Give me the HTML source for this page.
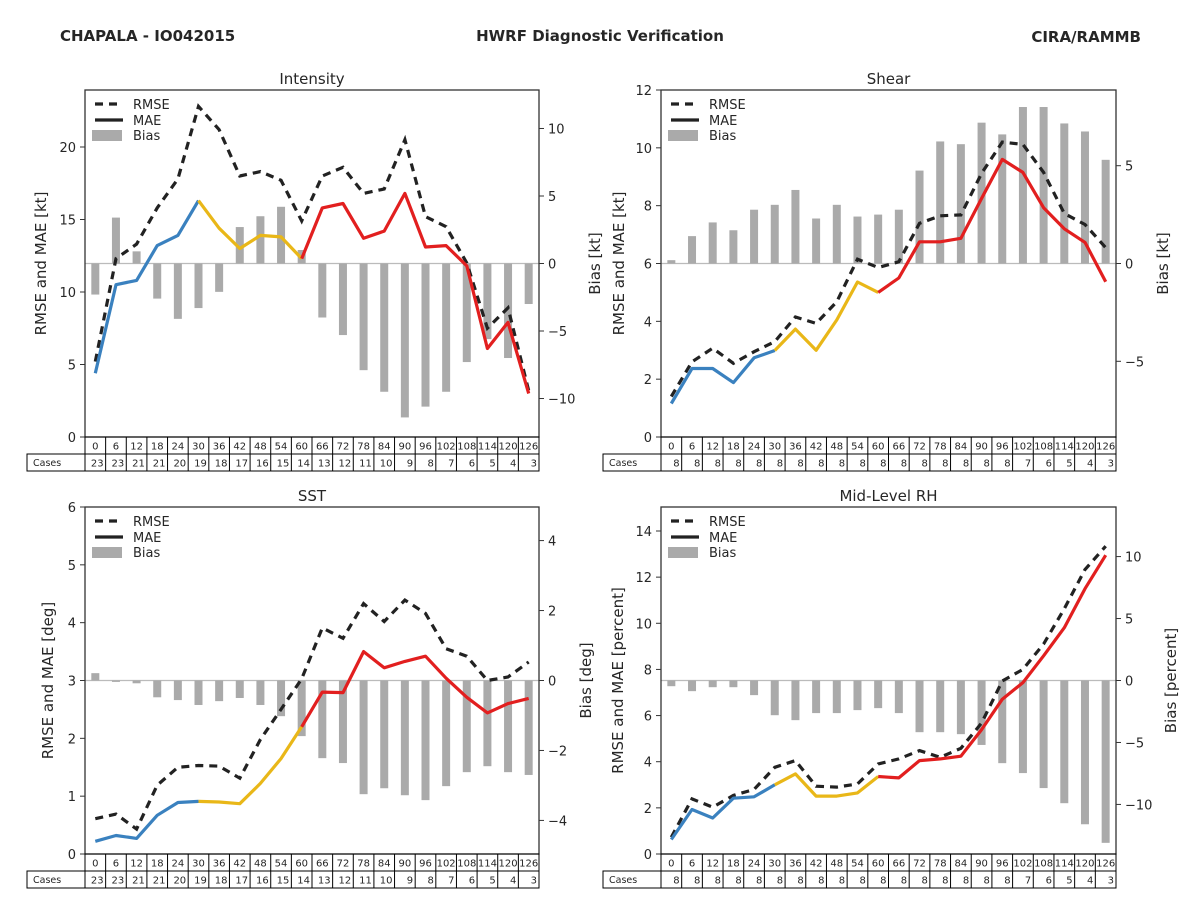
<!DOCTYPE html>
<html><head><meta charset="utf-8">
<style>
body{margin:0;background:#fff;}
svg{display:block;font-family:"DejaVu Sans","Liberation Sans",sans-serif;}
</style></head>
<body>
<svg id="fig" width="1200" height="900" viewBox="0 0 1200 900" xmlns="http://www.w3.org/2000/svg">
<rect width="1200" height="900" fill="#fff"/>
<text x="60" y="41" font-size="15" font-weight="bold" fill="#262626">CHAPALA - IO042015</text>
<text x="600" y="41" font-size="15" font-weight="bold" fill="#262626" text-anchor="middle">HWRF Diagnostic Verification</text>
<text x="1141" y="42" font-size="15" font-weight="bold" fill="#262626" text-anchor="end">CIRA/RAMMB</text>
</svg>
<script>
const hours = [0,6,12,18,24,30,36,42,48,54,60,66,72,78,84,90,96,102,108,114,120,126];
const casesA = [23,23,21,21,20,19,18,17,16,15,14,13,12,11,10,9,8,7,6,5,4,3];
const casesB = [8,8,8,8,8,8,8,8,8,8,8,8,8,8,8,8,8,7,6,5,4,3];

const intMAE = [4.4,10.5,10.8,13.2,13.9,16.3,14.4,13.0,13.9,13.8,12.3,15.8,16.1,13.7,14.2,16.8,13.1,13.2,11.8,6.1,7.9,3.0];
const intRMSE = [5.2,12.3,13.3,15.8,17.8,22.8,21.2,18.0,18.3,17.7,14.9,18.0,18.6,16.8,17.1,20.5,15.2,14.5,12.0,7.5,8.9,3.2];
const intBias = [-2.3,3.4,0.9,-2.6,-4.1,-3.3,-2.1,2.7,3.5,4.2,1.0,-4.0,-5.3,-7.9,-9.5,-11.4,-10.6,-9.5,-7.3,-5.6,-7.0,-3.0];

const shrMAE = [1.16,2.37,2.37,1.88,2.74,2.99,3.73,3.0,4.05,5.36,5.0,5.5,6.75,6.75,6.87,8.25,9.6,9.15,7.93,7.2,6.73,5.37];
const shrRMSE = [1.4,2.6,3.07,2.55,2.95,3.3,4.15,3.93,4.68,6.15,5.86,6.06,7.39,7.65,7.68,9.12,10.2,10.12,9.15,7.73,7.35,6.55];
const shrBias = [0.17,1.4,2.1,1.7,2.75,3.0,3.76,2.3,3.0,2.4,2.5,2.75,4.75,6.24,6.1,7.2,6.6,8.0,8.0,7.16,6.75,5.3];

const sstMAE = [0.22,0.32,0.27,0.67,0.89,0.91,0.90,0.87,1.22,1.65,2.2,2.8,2.79,3.5,3.22,3.33,3.42,3.04,2.71,2.44,2.6,2.69];
const sstRMSE = [0.61,0.69,0.43,1.19,1.5,1.53,1.52,1.31,1.98,2.5,3.03,3.91,3.73,4.33,4.02,4.39,4.16,3.55,3.42,3.0,3.06,3.32];
const sstBias = [0.21,-0.04,-0.08,-0.48,-0.56,-0.70,-0.59,-0.50,-0.70,-1.02,-1.59,-2.22,-2.36,-3.25,-3.08,-3.28,-3.42,-3.02,-2.62,-2.45,-2.62,-2.70];

const rhMAE = [0.63,1.93,1.56,2.42,2.48,3.0,3.47,2.51,2.51,2.65,3.36,3.3,4.05,4.12,4.24,5.39,6.71,7.43,8.59,9.81,11.5,12.95];
const rhRMSE = [0.73,2.39,2.03,2.54,2.8,3.76,4.05,2.94,2.9,3.04,3.9,4.12,4.48,4.19,4.58,5.68,7.5,8.0,9.1,10.63,12.33,13.34];
const rhBias = [-0.46,-0.86,-0.54,-0.54,-1.18,-2.8,-3.2,-2.63,-2.63,-2.39,-2.23,-2.63,-4.17,-4.17,-4.33,-5.2,-6.67,-7.47,-8.68,-9.9,-11.6,-13.1];

const intLeftTicks = [0,5,10,15,20];
const intRightTicks = [-10,-5,0,5,10];
const shrLeftTicks = [0,2,4,6,8,10,12];
const shrRightTicks = [-5,0,5];
const sstLeftTicks = [0,1,2,3,4,5,6];
const sstRightTicks = [-4,-2,0,2,4];
const rhLeftTicks = [0,2,4,6,8,10,12,14];
const rhRightTicks = [-10,-5,0,5,10];

const NS = "http://www.w3.org/2000/svg";
const fig = document.getElementById('fig');
function mk(tag, attrs, parent, txt){
  const e = document.createElementNS(NS, tag);
  for (const k in attrs) e.setAttribute(k, attrs[k]);
  if (txt !== undefined) e.textContent = txt;
  (parent||fig).appendChild(e);
  return e;
}
function fmt(v){ return v<0 ? '\u2212'+Math.abs(v) : String(v); }

function panel(o){
  const g = mk('g', {});
  
  
  const L=o.x0, R=o.x1, T=o.y0, B=o.y1;
  const xs = h => L + (h + 3) * (R - L) / 132;
  const yl = v => B - (v - o.lmin) * (B - T) / (o.lmax - o.lmin);
  const yr = v => B - (v - o.rmin) * (B - T) / (o.rmax - o.rmin);
  const t = mk('text', {x:(L+R)/2, y:T-6, 'font-size':15, 'text-anchor':'middle', fill:'#262626'}, g, o.title);
  
  
  const z = mk('line', {x1:L, x2:R, y1:yr(0), y2:yr(0), stroke:'#bbbbbb', 'stroke-width':1.2}, g);
  
  
  o.bias.forEach((b,i)=>{
    const y0 = yr(0), y1 = yr(b);
    const r = mk('rect', {x:xs(hours[i])-4, y:Math.min(y0,y1), width:8, height:Math.abs(y1-y0), fill:'#aaaaaa'}, g);
    
    
  });
  const rp = o.rmse.map((v,i)=>xs(hours[i]).toFixed(1)+','+yl(v).toFixed(1)).join(' ');
  const rl = mk('polyline', {points:rp, fill:'none', stroke:'#222', 'stroke-width':3.2, 'stroke-dasharray':'8,6'}, g);
  
  
  const seg = (a,b,col)=>{
    const pts=[];
    hours.forEach((h,i)=>{ if(h>=a && h<=b) pts.push(xs(h).toFixed(1)+','+yl(o.mae[i]).toFixed(1)); });
    const p = mk('polyline', {points:pts.join(' '), fill:'none', stroke:col, 'stroke-width':3.2, 'stroke-linejoin':'round'}, g);
    
    
  };
  seg(0,30,'#3a81bf'); seg(30,60,'#e9b718'); seg(60,126,'#e21f1f');
  const f = mk('rect', {x:L, y:T, width:R-L, height:B-T, fill:'none', stroke:'#333', 'stroke-width':1.3}, g);
  
  
  o.lt.forEach(v=>{
    const y=yl(v);
    mk('line', {x1:L-5, x2:L, y1:y, y2:y, stroke:'#333', 'stroke-width':1}, g);
    const tl = mk('text', {x:L-9, y:y+5, 'font-size':13, 'text-anchor':'end', fill:'#262626'}, g, fmt(v));
    
    
  });
  o.rt.forEach(v=>{
    const y=yr(v);
    mk('line', {x1:R, x2:R+5, y1:y, y2:y, stroke:'#333', 'stroke-width':1}, g);
    const tl = mk('text', {x:R+9, y:y+5, 'font-size':13, 'text-anchor':'start', fill:'#262626'}, g, fmt(v));
    
    
  });
  const ll = mk('text', {x:0, y:0, 'font-size':15, 'text-anchor':'middle', fill:'#262626', transform:`translate(${o.llx},${(T+B)/2}) rotate(-90)`}, g, o.lLabel);
  
  
  const rl2 = mk('text', {x:0, y:0, 'font-size':15, 'text-anchor':'middle', fill:'#262626', transform:`translate(${o.rlx},${(T+B)/2}) rotate(-90)`}, g, o.rLabel);
  
  
  const lg = mk('g', {}, g);
  
  
  const lx=L+10, ly=T+14;
  mk('line', {x1:lx, x2:lx+28, y1:ly, y2:ly, stroke:'#222', 'stroke-width':3.2, 'stroke-dasharray':'8,6'}, lg);
  mk('text', {x:lx+38, y:ly+5, 'font-size':13, fill:'#262626'}, lg, 'RMSE');
  mk('line', {x1:lx, x2:lx+28, y1:ly+16, y2:ly+16, stroke:'#222', 'stroke-width':3.2}, lg);
  mk('text', {x:lx+38, y:ly+21, 'font-size':13, fill:'#262626'}, lg, 'MAE');
  mk('rect', {x:lx-3, y:ly+26, width:30, height:11, fill:'#aaaaaa'}, lg);
  mk('text', {x:lx+38, y:ly+36, 'font-size':13, fill:'#262626'}, lg, 'Bias');
  const tb = mk('g', {}, g);
  
  
  const cw=(R-L)/22;
  mk('rect', {x:L, y:B, width:R-L, height:17, fill:'none', stroke:'#000', 'stroke-width':1}, tb);
  mk('rect', {x:L-58, y:B+17, width:R-L+58, height:17, fill:'none', stroke:'#000', 'stroke-width':1}, tb);
  mk('line', {x1:L, x2:L, y1:B+17, y2:B+34, stroke:'#000'}, tb);
  mk('text', {x:L-52, y:B+29, 'font-size':9.5, fill:'#262626'}, tb, 'Cases');
  hours.forEach((h,i)=>{
    const cx=L+cw*i;
    if(i>0){ mk('line', {x1:cx, x2:cx, y1:B, y2:B+34, stroke:'#000'}, tb); }
    mk('text', {x:cx+cw/2, y:B+12.5, 'font-size':10, 'text-anchor':'middle', fill:'#262626'}, tb, String(h));
    mk('text', {x:cx+cw-2, y:B+29.5, 'font-size':10, 'text-anchor':'end', fill:'#262626'}, tb, String(o.cases[i]));
  });
}

panel({name:'intensity', title:'Intensity', x0:85, x1:539, y0:90, y1:437, lmin:0, lmax:23.93, rmin:-12.85, rmax:12.85,
  mae:intMAE, rmse:intRMSE, bias:intBias, lt:intLeftTicks, rt:intRightTicks, cases:casesA,
  lLabel:'RMSE and MAE [kt]', rLabel:'Bias [kt]', llx:46, rlx:600});
panel({name:'shear', title:'Shear', x0:661, x1:1116, y0:90, y1:437, lmin:0, lmax:12, rmin:-8.87, rmax:8.87,
  mae:shrMAE, rmse:shrRMSE, bias:shrBias, lt:shrLeftTicks, rt:shrRightTicks, cases:casesB,
  lLabel:'RMSE and MAE [kt]', rLabel:'Bias [kt]', llx:624, rlx:1168});
panel({name:'sst', title:'SST', x0:85, x1:539, y0:507, y1:854, lmin:0, lmax:6, rmin:-4.96, rmax:4.96,
  mae:sstMAE, rmse:sstRMSE, bias:sstBias, lt:sstLeftTicks, rt:sstRightTicks, cases:casesA,
  lLabel:'RMSE and MAE [deg]', rLabel:'Bias [deg]', llx:53, rlx:591});
panel({name:'mid-level-rh', title:'Mid-Level RH', x0:661, x1:1116, y0:507, y1:854, lmin:0, lmax:15.04, rmin:-14, rmax:14,
  mae:rhMAE, rmse:rhRMSE, bias:rhBias, lt:rhLeftTicks, rt:rhRightTicks, cases:casesB,
  lLabel:'RMSE and MAE [percent]', rLabel:'Bias [percent]', llx:623, rlx:1176});
</script>
</body></html>
